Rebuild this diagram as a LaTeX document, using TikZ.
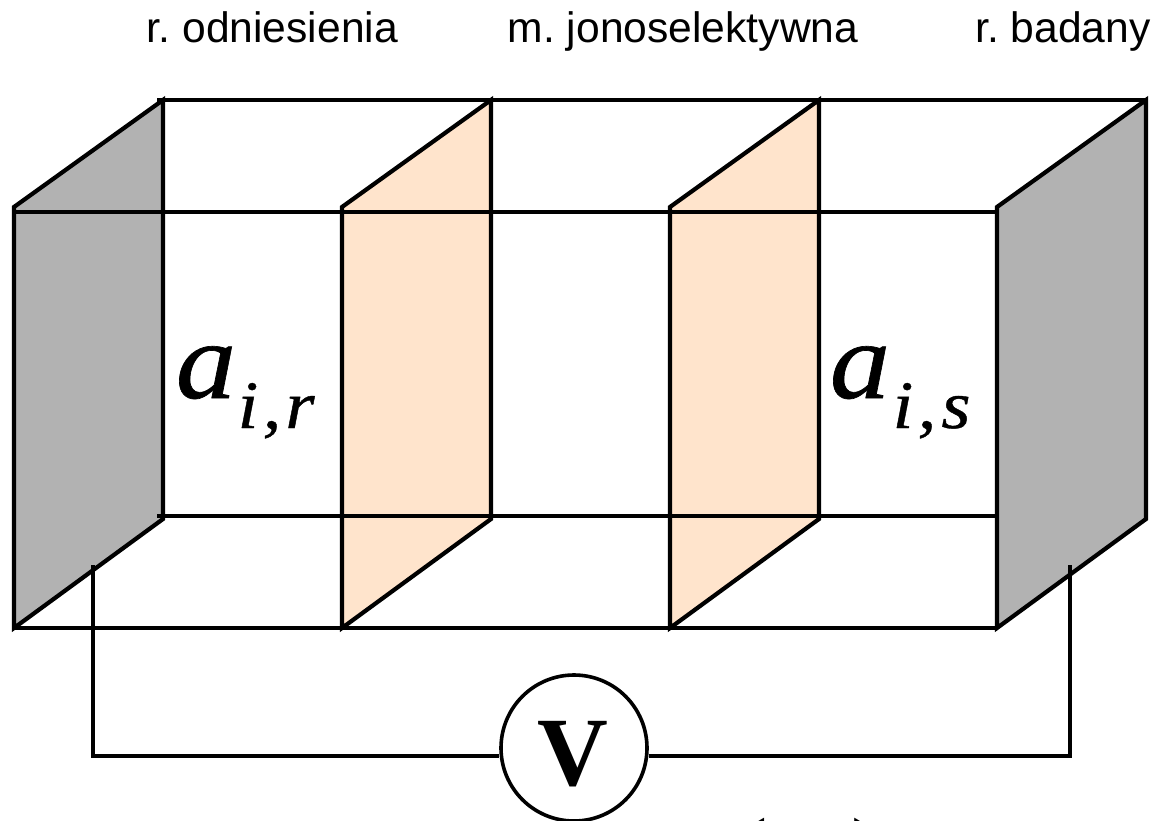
\documentclass[tikz,border=0pt]{standalone}
\usepackage{fontspec}
\setmainfont{Liberation Serif}
\setsansfont{Liberation Sans}
\newfontface\boldishit[FakeBold=0.6,FakeStretch=1.1]{Liberation Serif Italic}
\frenchspacing
\tikzset{
  plate/.style={draw=black,line width=4.2pt,line join=miter},
  edge/.style={draw=black,line width=3.4pt},
  wire/.style={draw=black,line width=3.2pt},
  lab/.style={font=\sffamily\fontsize{42.6}{46}\selectfont,anchor=base,inner sep=0pt},
  big/.style={font=\boldishit\fontsize{110}{114}\selectfont,anchor=base,inner sep=0pt},
  sub/.style={font=\boldishit\fontsize{68}{72}\selectfont,anchor=base,inner sep=0pt},
  par/.style={font=\fontsize{100}{100}\selectfont,anchor=base,inner sep=0pt},
}
\definecolor{gplate}{RGB}{178,178,178}
\definecolor{oplate}{RGB}{255,228,204}
\begin{document}
\begin{tikzpicture}[x=1pt,y=-1pt]
\useasboundingbox (0,0) rectangle (1160,820);
\clip (0,0) rectangle (1160,820);
% plates
\path[plate,fill=gplate] (14,207) -- (163,100) -- (163,519) -- (14,628) -- cycle;
\path[plate,fill=oplate] (342,207) -- (491,100) -- (491,519) -- (342,628) -- cycle;
\path[plate,fill=oplate] (670,207) -- (819,100) -- (819,519) -- (670,628) -- cycle;
% edges
\coordinate (bt0) at (157,100); \coordinate (bt1) at (1146,100);
\coordinate (ft0) at (14,212); \coordinate (ft1) at (997,212);
\coordinate (bb0) at (157,516); \coordinate (bb1) at (997,516);
\coordinate (fb0) at (14,628); \coordinate (fb1) at (997,628);
\draw[edge] (bt0) -- (bt1);
\draw[edge] (ft0) -- (ft1);
\draw[edge] (bb0) -- (bb1);
\draw[edge] (fb0) -- (fb1);
\path[plate,fill=gplate] (997,207) -- (1146,100) -- (1146,519) -- (997,628) -- cycle;
% voltmeter
\node[circle,draw=black,line width=3.6pt,fill=white,minimum size=146pt,inner sep=0pt] (V) at (574,748) {};
\node[font=\bfseries\fontsize{98}{100}\selectfont,anchor=base,inner sep=0pt] (Vt) at (573,785) {V};
\coordinate (wl0) at (93,565); \coordinate (wl1) at (93,756);
\coordinate (wr0) at (1070,565); \coordinate (wr1) at (1070,756);
\draw[wire,line join=miter] (wl0) -- (wl1) -- (V.west |- wl1);
\draw[wire,line join=miter] (wr0) -- (wr1) -- (V.east |- wr1);
% labels
\node[lab] (l1) at (272.5,42) {r. odniesienia};
\node[lab] (l2) at (683,42) {m. jonoselektywna};
\node[lab] (l3) at (1063,42) {r. badany};
\node[big] (a1) at (206,398) {a};
\node[sub] (i1) at (248,428) {i};
\node[sub] (c1) at (272,428) {,};
\node[sub] (r1) at (300,428) {r};
\node[big] (a2) at (860,398) {a};
\node[sub] (i2) at (903,428) {i};
\node[sub] (c2) at (927,428) {,};
\node[sub] (s2) at (956,428) {s};
\node[par] (p1) at (751,887) {(};
\node[par] (p2) at (868,887) {)};
\end{tikzpicture}
\end{document}
